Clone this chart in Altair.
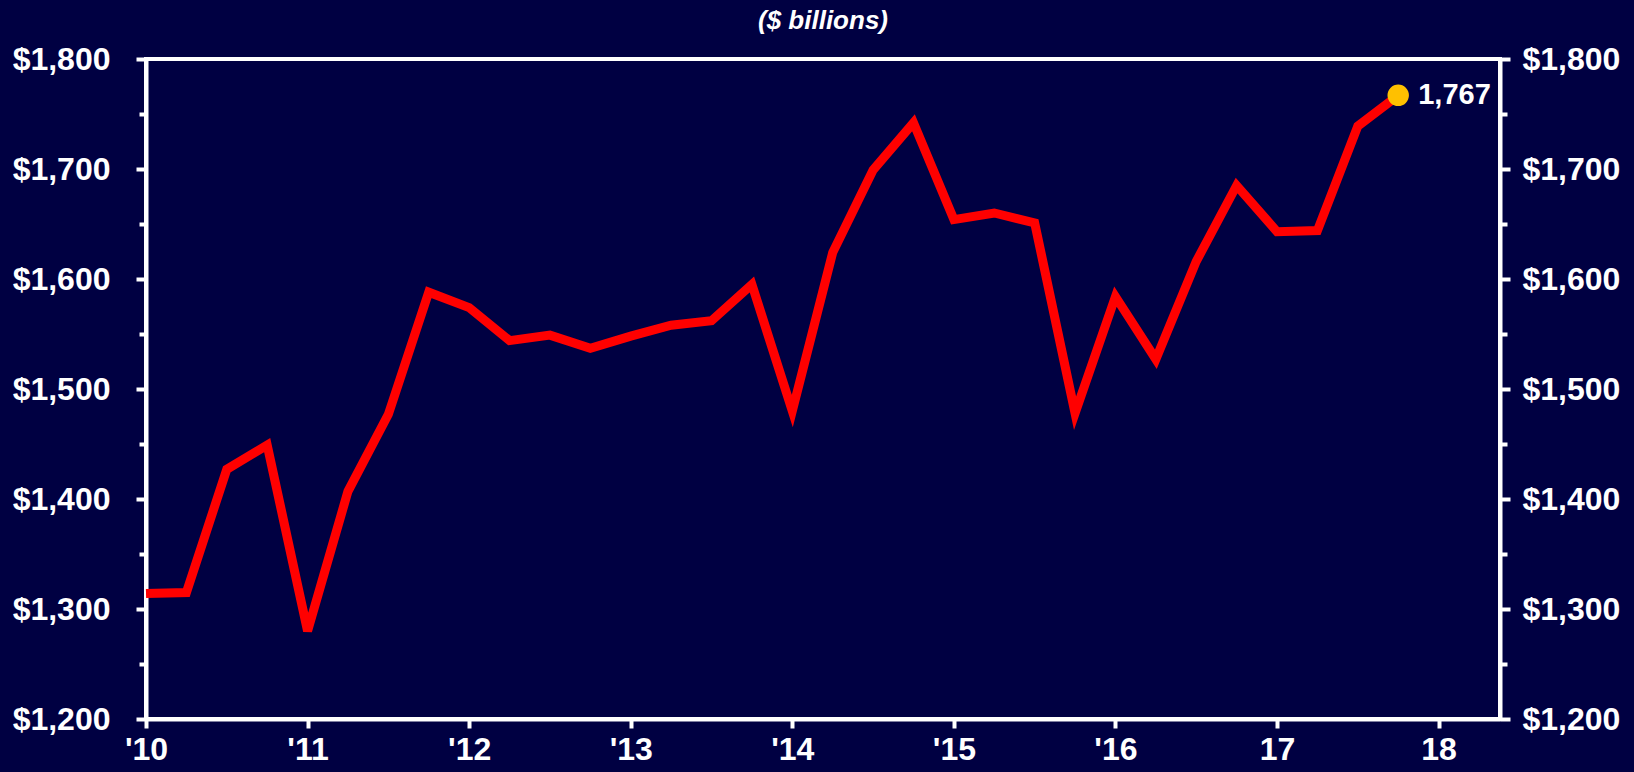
import json
import altair as alt
import pandas as pd

# ---- data ----
quarter_pos = [2010.0, 2010.25, 2010.5, 2010.75,
               2011.0, 2011.25, 2011.5, 2011.75,
               2012.0, 2012.25, 2012.5, 2012.75,
               2013.0, 2013.25, 2013.5, 2013.75,
               2014.0, 2014.25, 2014.5, 2014.75,
               2015.0, 2015.25, 2015.5, 2015.75,
               2016.0, 2016.25, 2016.5, 2016.75,
               2017.0, 2017.25, 2017.5, 2017.75]
values = [1314, 1315, 1427, 1449,
          1280, 1407, 1477, 1588,
          1574, 1544, 1549, 1537,
          1548, 1558, 1562, 1595,
          1480, 1624, 1699, 1742,
          1654, 1660, 1651, 1478,
          1584, 1527, 1616, 1685,
          1643, 1644, 1739, 1767]
x_ticks = [2010, 2011, 2012, 2013, 2014, 2015, 2016, 2017, 2018]
x_tick_labels = ["'10", "'11", "'12", "'13", "'14", "'15", "'16", "17", "18"]
y_ticks = [1200, 1250, 1300, 1350, 1400, 1450, 1500, 1550, 1600, 1650, 1700, 1750, 1800]
y_tick_labels = ["$1,200", "", "$1,300", "", "$1,400", "", "$1,500", "", "$1,600", "", "$1,700", "", "$1,800"]
end_label = ["1,767"]
title_text = "($ billions)"

BG = "#000042"
FONT = "Liberation Sans"

df = pd.DataFrame({"t": quarter_pos, "v": values})
df_end = pd.DataFrame({"t": [quarter_pos[-1]], "v": [values[-1]], "lab": end_label})

x_lab_expr = json.dumps(x_tick_labels) + "[indexof(" + json.dumps(x_ticks) + ", datum.value)]"
y_lab_expr = json.dumps(y_tick_labels) + "[indexof(" + json.dumps(y_ticks) + ", datum.value)]"
y_tick_size = alt.ExprRef("datum.value % 100 === 0 ? 10 : 7")

x_scale = alt.Scale(domain=[2010, 2018.38], nice=False, zero=False)
y_scale = alt.Scale(domain=[1200, 1800], nice=False, zero=False)

x_axis = alt.Axis(values=x_ticks, labelExpr=x_lab_expr, title=None, grid=False,
                  tickSize=9, labelPadding=6, labelFlush=False, labelOverlap=False)

x_enc = alt.X("t:Q", scale=x_scale, axis=x_axis)

line = alt.Chart(df).mark_line(color="#FF0000", strokeWidth=9).encode(
    x=x_enc,
    y=alt.Y("v:Q", scale=y_scale,
            axis=alt.Axis(orient="left", values=y_ticks, labelExpr=y_lab_expr, title=None,
                          grid=False, tickSize=y_tick_size, labelPadding=26,
                          labelFlush=False, labelOverlap=False, offset=0)),
)

point = alt.Chart(df_end).mark_circle(color="#FFC000", size=460, opacity=1).encode(
    x=x_enc,
    y=alt.Y("v:Q", scale=y_scale,
            axis=alt.Axis(orient="right", values=y_ticks, labelExpr=y_lab_expr, title=None,
                          grid=False, tickSize=y_tick_size, labelPadding=12,
                          labelFlush=False, labelOverlap=False, offset=0)),
)

label = alt.Chart(df_end).mark_text(align="left", baseline="middle", dx=20, fontSize=29,
                                     fontWeight="bold", font=FONT, color="white").encode(
    x=x_enc,
    y=alt.Y("v:Q", scale=y_scale, axis=None),
    text="lab:N",
)

chart = alt.layer(line, point, label).resolve_axis(y="independent").properties(
    width=1354,
    height=660,
    background=BG,
    padding={"left": 146, "top": 59, "right": 130, "bottom": 50},
    autosize=alt.AutoSizeParams(type="none"),
    title=alt.TitleParams(title_text, font=FONT, fontSize=26, fontWeight="bold",
                          fontStyle="italic", color="white", anchor="middle", offset=9),
).configure_view(stroke="white", strokeWidth=4).configure_axis(
    domainColor="white", domainWidth=4, tickColor="white", tickWidth=4,
    labelColor="white", labelFont=FONT, labelFontSize=32, labelFontWeight="bold",
)

chart.save("out.html", embed_options={"renderer": "svg", "actions": False,
                                      "defaultStyle": "body{margin:0;overflow:hidden;background:#000042;}"})
